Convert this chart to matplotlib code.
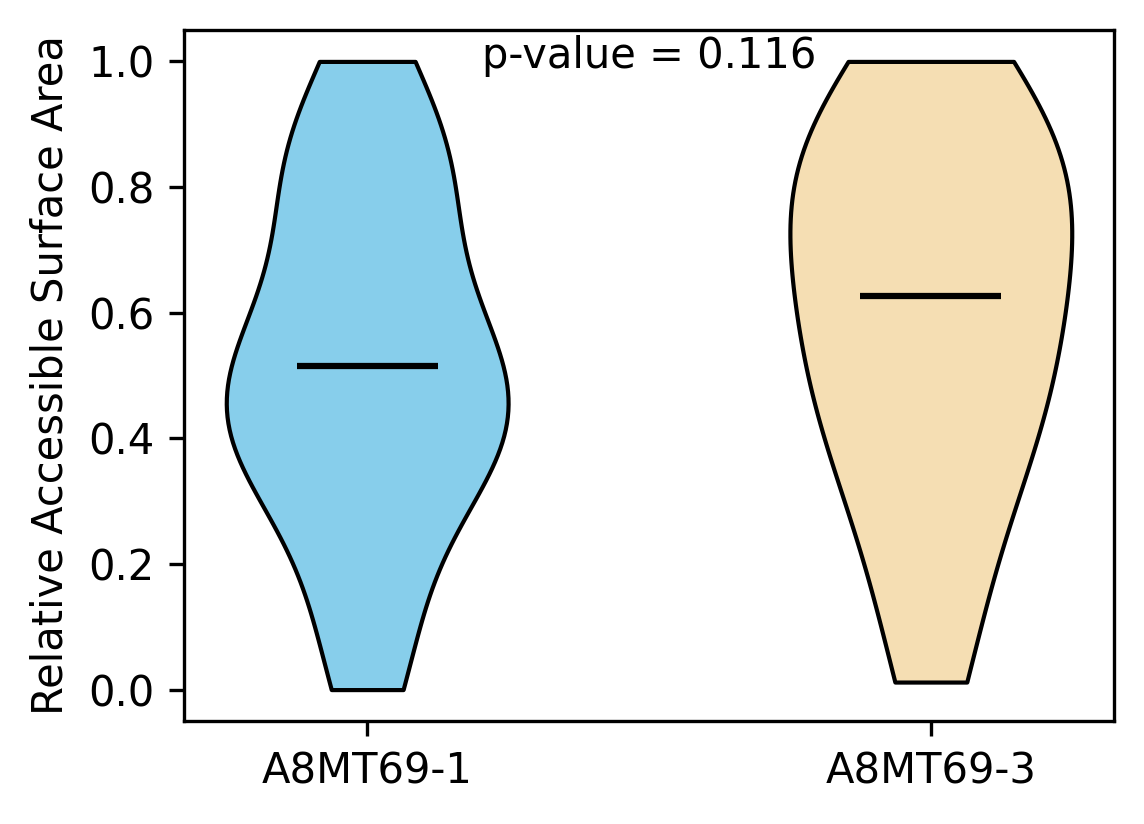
import matplotlib
matplotlib.use("Agg")
from matplotlib import pyplot as plt

# relative accessible surface area per residue, two variants
labels = ['A8MT69-1', 'A8MT69-3']
rsa_1 = [0.000, 0.108, 0.135, 0.312, 0.375, 0.378, 0.388, 0.388, 0.436, 0.446, 0.515,
         0.519, 0.532, 0.560, 0.643, 0.735, 0.818, 0.845, 0.858, 0.863, 1.000]
rsa_3 = [0.012, 0.107, 0.238, 0.327, 0.327, 0.411, 0.484, 0.524, 0.531, 0.542, 0.626,
         0.680, 0.738, 0.753, 0.753, 0.829, 0.833, 0.869, 0.931, 0.986, 1.000]
colors = ['skyblue', 'wheat']
p_value = 0.116

if __name__ == "__main__":
    fig = plt.figure(figsize=(1144 / 300, 824 / 300), dpi=300)
    ax = fig.add_axes([184 / 1144, 103 / 824, 930 / 1144, 691 / 824])

    parts = ax.violinplot([rsa_1, rsa_3], positions=[1, 2], showmedians=True, showextrema=False)
    for body, c in zip(parts['bodies'], colors):
        body.set_facecolor(c)
        body.set_edgecolor('black')
        body.set_linewidth(1.0)
        body.set_alpha(1)
    parts['cmedians'].set_color('black')
    parts['cmedians'].set_linewidth(1.5)

    ax.set_xticks([1, 2])
    ax.set_xticklabels(labels)
    ax.set_ylabel('Relative Accessible Surface Area')
    ax.text(1.5, 0.99, 'p-value = %.3f' % p_value, ha='center', va='baseline')

    fig.savefig("out.png", dpi=300)
